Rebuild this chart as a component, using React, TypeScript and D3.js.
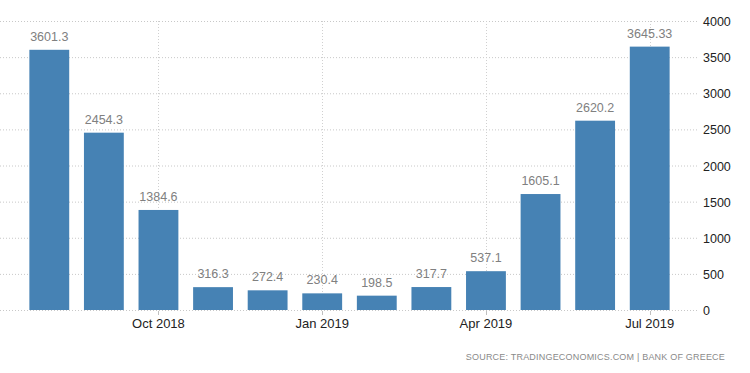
import React, { useEffect, useRef } from 'react';
import * as d3 from 'd3';

const months = ['Aug 2018', 'Sep 2018', 'Oct 2018', 'Nov 2018', 'Dec 2018', 'Jan 2019', 'Feb 2019', 'Mar 2019', 'Apr 2019', 'May 2019', 'Jun 2019', 'Jul 2019'];
const values = [3601.3, 2454.3, 1384.6, 316.3, 272.4, 230.4, 198.5, 317.7, 537.1, 1605.1, 2620.2, 3645.33];
const valueLabels = ['3601.3', '2454.3', '1384.6', '316.3', '272.4', '230.4', '198.5', '317.7', '537.1', '1605.1', '2620.2', '3645.33'];
const xTicks = ['Oct 2018', 'Jan 2019', 'Apr 2019', 'Jul 2019'];
const yTicks = [0, 500, 1000, 1500, 2000, 2500, 3000, 3500, 4000];

const W = 750;
const H = 373;

const App = () => {
  const ref = useRef<SVGSVGElement>(null);

  useEffect(() => {
    const svg = d3.select(ref.current);
    svg.selectAll('*').remove();

    const left = 0;
    const right = 697;
    const top = 21;
    const bottom = 310;

    const x = d3.scaleBand().domain(months).range([22, 677]).paddingInner(0.27).paddingOuter(0.135);
    const y = d3.scaleLinear().domain([0, 4000]).range([bottom, top]);

    // grille horizontale
    svg.append('g')
      .selectAll('line')
      .data(yTicks)
      .enter()
      .append('line')
      .attr('x1', left)
      .attr('x2', right)
      .attr('y1', d => y(d) + 0.5)
      .attr('y2', d => y(d) + 0.5)
      .attr('stroke', '#c8c8c8')
      .attr('stroke-dasharray', '1,2');

    // grille verticale
    svg.append('g')
      .selectAll('line')
      .data(xTicks)
      .enter()
      .append('line')
      .attr('x1', d => Math.round(x(d)! + x.bandwidth() / 2) + 0.5)
      .attr('x2', d => Math.round(x(d)! + x.bandwidth() / 2) + 0.5)
      .attr('y1', top)
      .attr('y2', bottom)
      .attr('stroke', '#d0d0d0')
      .attr('stroke-dasharray', '1,2');

    // barres
    svg.append('g')
      .selectAll('rect')
      .data(values)
      .enter()
      .append('rect')
      .attr('x', (d, i) => x(months[i])!)
      .attr('y', d => y(d))
      .attr('width', x.bandwidth())
      .attr('height', d => bottom - y(d))
      .attr('fill', '#4682b4');

    // valeurs
    svg.append('g')
      .selectAll('text')
      .data(values)
      .enter()
      .append('text')
      .attr('x', (d, i) => x(months[i])! + x.bandwidth() / 2)
      .attr('y', d => y(d) - 9)
      .attr('text-anchor', 'middle')
      .attr('font-family', 'Liberation Sans, Arial, sans-serif')
      .attr('font-size', 12.5)
      .attr('fill', '#808080')
      .text((d, i) => valueLabels[i]);

    // ticks x
    svg.append('g')
      .selectAll('line')
      .data(xTicks)
      .enter()
      .append('line')
      .attr('x1', d => Math.round(x(d)! + x.bandwidth() / 2) + 0.5)
      .attr('x2', d => Math.round(x(d)! + x.bandwidth() / 2) + 0.5)
      .attr('y1', bottom + 1)
      .attr('y2', bottom + 5)
      .attr('stroke', '#c0c0c0');

    svg.append('g')
      .selectAll('text')
      .data(xTicks)
      .enter()
      .append('text')
      .attr('x', d => x(d)! + x.bandwidth() / 2)
      .attr('y', 328)
      .attr('text-anchor', 'middle')
      .attr('font-family', 'Liberation Sans, Arial, sans-serif')
      .attr('font-size', 13)
      .attr('fill', '#222')
      .text(d => d);

    // axe y
    svg.append('g')
      .selectAll('text')
      .data(yTicks)
      .enter()
      .append('text')
      .attr('x', 703)
      .attr('y', d => y(d) + 5)
      .attr('font-family', 'Liberation Sans, Arial, sans-serif')
      .attr('font-size', 12.5)
      .attr('fill', '#222')
      .text(d => String(d));

    // source
    svg.append('text')
      .attr('x', 725)
      .attr('y', 360)
      .attr('text-anchor', 'end')
      .attr('font-family', 'Liberation Sans, Arial, sans-serif')
      .attr('font-size', 9)
      .attr('letter-spacing', 0.2)
      .attr('fill', '#8a8a8a')
      .text('SOURCE: TRADINGECONOMICS.COM  |  BANK OF GREECE');
  }, []);

  return (
    <svg ref={ref} width={W} height={H} style={{ position: 'absolute', left: 0, top: 0, background: '#fff' }} />
  );
};

export default App;
